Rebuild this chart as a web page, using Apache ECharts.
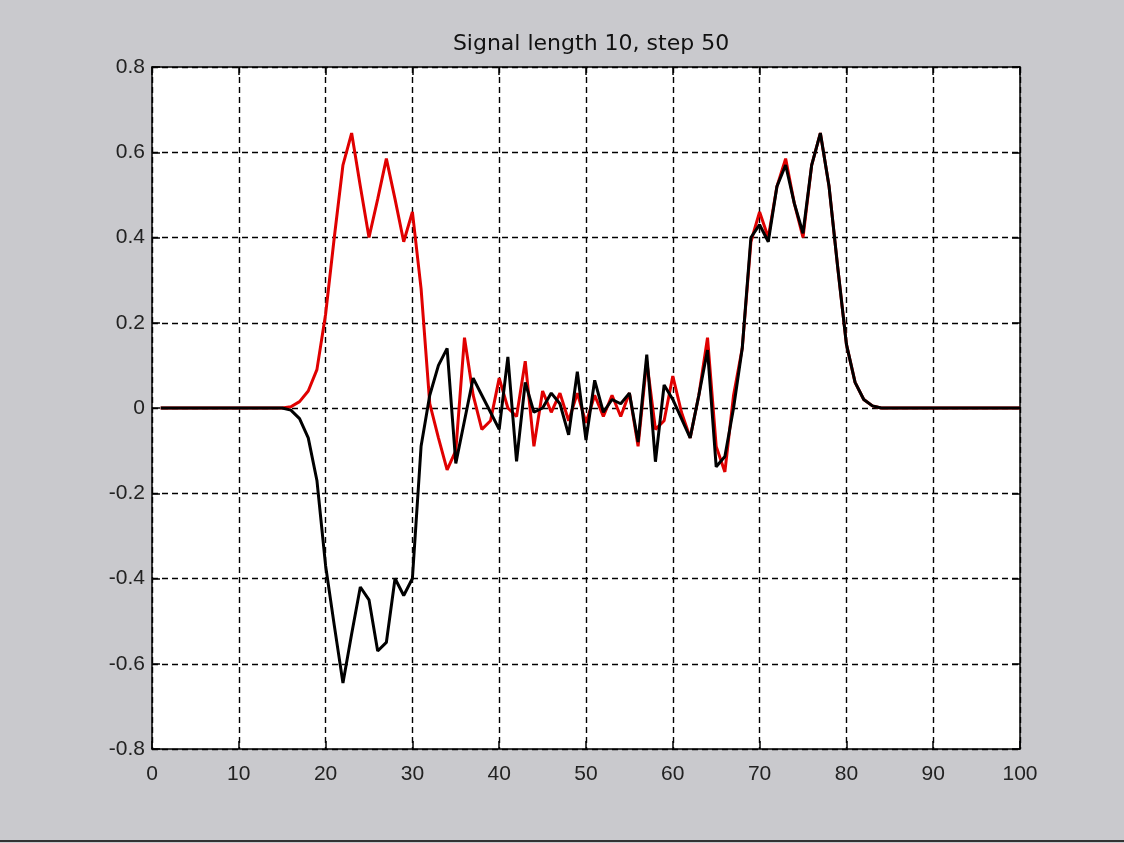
<!DOCTYPE html>
<html>
<head>
<meta charset="utf-8">
<script src="https://cdn.jsdelivr.net/npm/echarts@6/dist/echarts.min.js"></script>
<style>
html,body{margin:0;padding:0;background:#cacace;}
#chart{width:1124px;height:843px;}
</style>
</head>
<body>
<div id="chart"></div>
<script>
const titleText = 'Signal length 10, step 50';
const xValues = [1,2,3,4,5,6,7,8,9,10,11,12,13,14,15,16,17,18,19,20,21,22,23,24,25,26,27,28,29,30,31,32,33,34,35,36,37,38,39,40,41,42,43,44,45,46,47,48,49,50,51,52,53,54,55,56,57,58,59,60,61,62,63,64,65,66,67,68,69,70,71,72,73,74,75,76,77,78,79,80,81,82,83,84,85,86,87,88,89,90,91,92,93,94,95,96,97,98,99,100];
const redValues = [0,0,0,0,0,0,0,0,0,0,0,0,0,0,0,
  0.003,0.015,0.04,0.09,0.22,0.40,0.57,0.645,0.52,0.40,0.49,0.585,0.49,0.39,0.46,
  0.28,0.01,-0.07,-0.145,-0.10,0.165,0.03,-0.05,-0.03,0.07,
  0.0,-0.02,0.11,-0.09,0.04,-0.01,0.035,-0.03,0.035,-0.035,
  0.03,-0.02,0.03,-0.02,0.035,-0.09,0.11,-0.05,-0.03,0.075,
  -0.01,-0.07,0.03,0.165,-0.09,-0.15,0.03,0.14,0.39,0.46,
  0.40,0.52,0.585,0.48,0.40,0.57,0.645,0.52,0.33,0.15,
  0.06,0.02,0.005,0,0,0,0,0,0,0,
  0,0,0,0,0,0,0,0,0,0];
const blackValues = [0,0,0,0,0,0,0,0,0,0,0,0,0,0,0,
  -0.005,-0.025,-0.07,-0.17,-0.37,-0.51,-0.645,-0.53,-0.42,-0.45,-0.57,-0.55,-0.40,-0.44,-0.40,
  -0.09,0.03,0.10,0.14,-0.13,-0.03,0.07,0.03,-0.01,-0.05,
  0.12,-0.125,0.06,-0.01,0.0,0.035,0.01,-0.063,0.085,-0.075,
  0.065,-0.01,0.02,0.01,0.035,-0.08,0.125,-0.126,0.054,0.02,
  -0.025,-0.07,0.03,0.136,-0.138,-0.114,0.0,0.14,0.40,0.43,
  0.39,0.52,0.57,0.48,0.41,0.57,0.645,0.52,0.33,0.15,
  0.06,0.02,0.005,0,0,0,0,0,0,0,
  0,0,0,0,0,0,0,0,0,0];
const xTicks = [0,10,20,30,40,50,60,70,80,90,100];
const yTicks = [-0.8,-0.6,-0.4,-0.2,0,0.2,0.4,0.6,0.8];

const redData = xValues.map((x,i)=>[x, redValues[i]]);
const blackData = xValues.map((x,i)=>[x, blackValues[i]]);

const chart = echarts.init(document.getElementById('chart'), null, {renderer:'canvas'});
const fontFam = 'Liberation Sans, Arial, sans-serif';
const lineCol = '#000';
function baseX(pos, show){
  return {
    type:'value', position:pos, min:xTicks[0], max:xTicks[xTicks.length-1], interval:10,
    axisLine:{show:true, onZero:false, lineStyle:{color:lineCol, width:1.5}},
    axisTick:{show:true, inside:true, length:8, lineStyle:{color:lineCol, width:1.5}},
    axisLabel:{show:show, fontSize:21, color:'#222', fontFamily:fontFam, margin:15},
    splitLine:{show:show, lineStyle:{color:'#000', type:[6,4], width:1.4}}
  };
}
function baseY(pos, show){
  return {
    type:'value', position:pos, min:yTicks[0], max:yTicks[yTicks.length-1], interval:0.2,
    axisLine:{show:true, onZero:false, lineStyle:{color:lineCol, width:1.5}},
    axisTick:{show:true, inside:true, length:8, lineStyle:{color:lineCol, width:1.5}},
    axisLabel:{show:show, fontSize:21, color:'#222', fontFamily:fontFam, margin:7,
      formatter: v => String(parseFloat(v.toFixed(1)))},
    splitLine:{show:show, lineStyle:{color:'#000', type:[6,4], width:1.4}}
  };
}
chart.setOption({
  backgroundColor:'#c9c9cd',
  animation:false,
  title:{text:titleText, left:586, top:28, textAlign:'center',
    textStyle:{fontSize:22, fontWeight:'normal', color:'#111', fontFamily:'DejaVu Sans, sans-serif'}},
  grid:{left:152, top:67, right:104, bottom:94, show:true, backgroundColor:'#ffffff', borderWidth:0},
  xAxis:[baseX('bottom', true), baseX('top', false)],
  yAxis:[baseY('left', true), baseY('right', false)],
  graphic:[{type:'line', shape:{x1:0,y1:841,x2:1124,y2:841}, style:{stroke:'#333', lineWidth:2}}],
  series:[
    {type:'line', data:redData, showSymbol:false, lineStyle:{color:'#e00000', width:3}, z:2},
    {type:'line', data:blackData, showSymbol:false, lineStyle:{color:'#000000', width:3}, z:3}
  ]
});
</script>
</body>
</html>
